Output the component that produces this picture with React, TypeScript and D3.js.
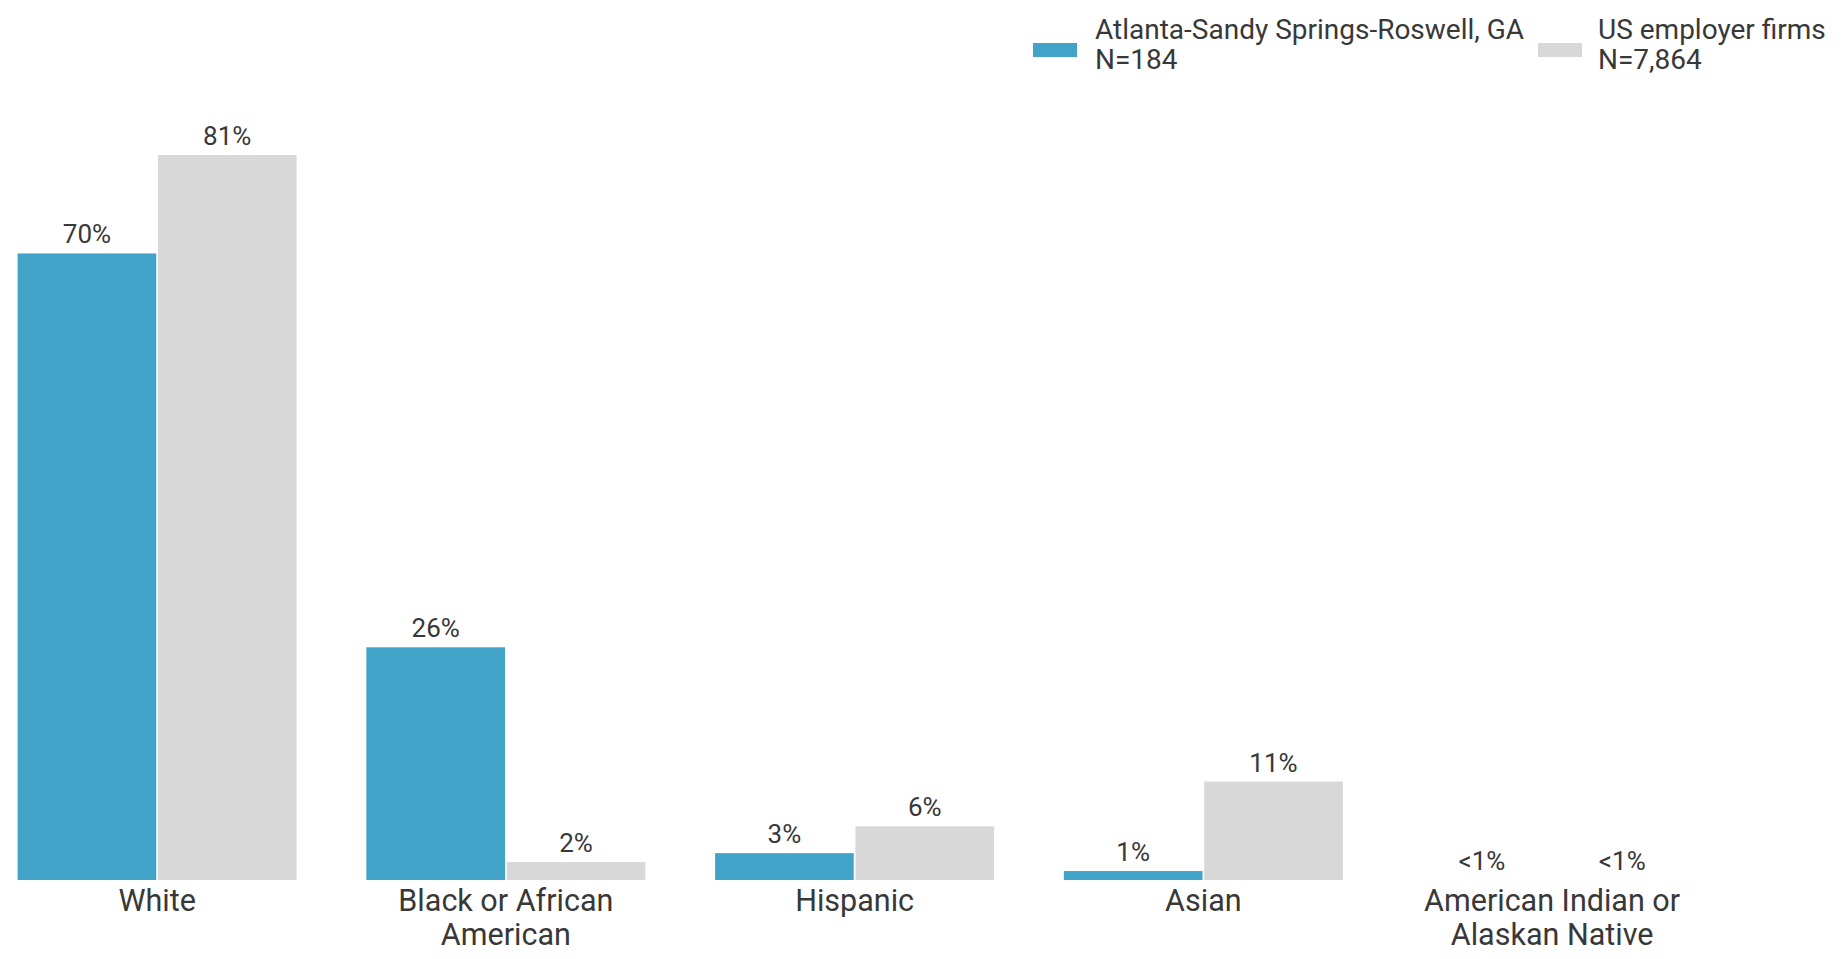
import React from "react";
import * as d3 from "d3";

const categories: string[][] = [
  ["White"],
  ["Black or African", "American"],
  ["Hispanic"],
  ["Asian"],
  ["American Indian or", "Alaskan Native"],
];
const atlantaValues = [70, 26, 3, 1, 0];
const usValues = [81, 2, 6, 11, 0];
const atlantaLabels = ["70%", "26%", "3%", "1%", "<1%"];
const usLabels = ["81%", "2%", "6%", "11%", "<1%"];
const seriesNames = ["Atlanta-Sandy Springs-Roswell, GA", "US employer firms"];
const seriesN = ["N=184", "N=7,864"];
const seriesColors = ["#42a3c8", "#d8d8d8"];

const W = 1845;
const H = 959;
const TEXT = "#383838";
const FONT = "Roboto, 'Noto Sans', sans-serif";

export default function App() {
  const keys = categories.map((c) => c.join(" "));
  const x = d3.scaleBand<string>().domain(keys).range([17.6, 1691.6]).paddingInner(0.2).paddingOuter(0);
  const sub = d3.scaleBand<number>().domain([0, 1]).range([0, x.bandwidth()]).paddingInner(0.012);
  const y = d3.scaleLinear().domain([0, 81]).range([880, 155]);
  const series = [
    { values: atlantaValues, labels: atlantaLabels },
    { values: usValues, labels: usLabels },
  ];
  const legendX = [1033, 1538];
  const legendTextX = [1095, 1598];

  return (
    <svg width={W} height={H} style={{ position: "absolute", left: 0, top: 0, background: "#fff" }} fontFamily={FONT}>
      {keys.map((k, i) => (
        <g key={k} transform={`translate(${x(k)},0)`}>
          {series.map((s, j) => {
            const v = s.values[i];
            const bx = sub(j)!;
            const bw = sub.bandwidth();
            return (
              <g key={j}>
                {v > 0 && (
                  <rect x={bx} y={y(v)} width={bw} height={y(0) - y(v)} fill={seriesColors[j]} />
                )}
                <text x={bx + bw / 2} y={y(v) - 10} textAnchor="middle" fontSize={26} fill={TEXT}>
                  {s.labels[i]}
                </text>
              </g>
            );
          })}
          {categories[i].map((line, li) => (
            <text
              key={li}
              x={x.bandwidth() / 2}
              y={911 + li * 34}
              textAnchor="middle"
              fontSize={30.5}
              fill={TEXT}
            >
              {line}
            </text>
          ))}
        </g>
      ))}
      {seriesNames.map((name, j) => (
        <g key={name}>
          <rect x={legendX[j]} y={43} width={44} height={14} fill={seriesColors[j]} />
          <text x={legendTextX[j]} y={39} fontSize={28} fill={TEXT}>
            {name}
          </text>
          <text x={legendTextX[j]} y={69} fontSize={28} fill={TEXT}>
            {seriesN[j]}
          </text>
        </g>
      ))}
    </svg>
  );
}
